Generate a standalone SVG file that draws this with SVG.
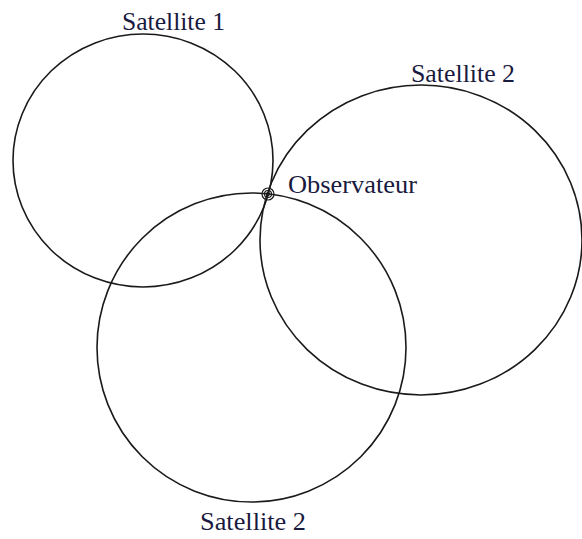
<svg xmlns="http://www.w3.org/2000/svg" width="582" height="539" viewBox="0 0 582 539">
<style>
.orb{fill:none;stroke:#1a1a1a;stroke-width:1.6}
.mk{fill:none;stroke:#1a1a1a;stroke-width:1.2}
.lbl{font-family:"Liberation Serif","Times New Roman",serif;font-size:25px;fill:#1a1a40}
</style>
<rect width="582" height="539" fill="#fff"/>
<g id="sat1">
<ellipse class="orb" cx="143" cy="160.5" rx="130" ry="126.5"/>
<text class="lbl" x="122" y="30" textLength="103" lengthAdjust="spacingAndGlyphs">Satellite 1</text>
</g>
<g id="sat2a">
<ellipse class="orb" cx="421" cy="240" rx="161" ry="155"/>
<text class="lbl" x="411" y="82" textLength="104" lengthAdjust="spacingAndGlyphs">Satellite 2</text>
</g>
<g id="sat2b">
<ellipse class="orb" cx="251.5" cy="347.5" rx="154.5" ry="154.5"/>
<text class="lbl" x="200" y="530" textLength="106" lengthAdjust="spacingAndGlyphs">Satellite 2</text>
</g>
<g id="observateur">
<circle class="mk" cx="268" cy="194" r="6"/>
<circle class="mk" cx="268" cy="194" r="3.5"/>
<circle class="mk" cx="268" cy="194" r="1.5"/>
<text class="lbl" x="288" y="193" textLength="129" lengthAdjust="spacingAndGlyphs">Observateur</text>
</g>
<g id="connectors"/>
</svg>
